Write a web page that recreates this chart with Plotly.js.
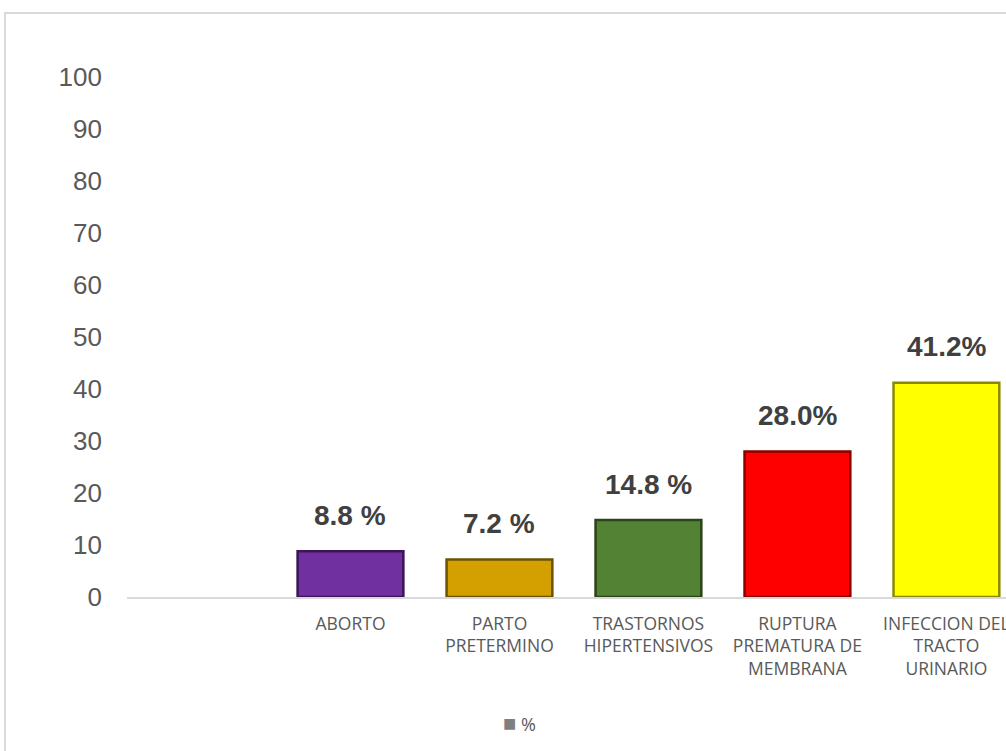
<!DOCTYPE html>
<html>
<head>
<meta charset="utf-8">
<script src="https://cdn.plot.ly/plotly-3.0.1.min.js"></script>
<style>
  html, body { margin: 0; padding: 0; background: #ffffff; overflow: hidden; width: 1006px; height: 751px; }
  #frame { position: absolute; left: 4px; top: 12px; width: 1100px; height: 900px; border: 2px solid #d9d9d9; box-sizing: border-box; }
  #chart { position: absolute; left: 0; top: 0; width: 1006px; height: 751px; }
</style>
</head>
<body>
<div id="frame"></div>
<div id="chart"></div>
<script>
// ---- data ----
const categories = [
  "ABORTO",
  "PARTO<br>PRETERMINO",
  "TRASTORNOS<br>HIPERTENSIVOS",
  "RUPTURA<br>PREMATURA DE<br>MEMBRANA",
  "INFECCION DEL<br>TRACTO<br>URINARIO"
];
const values = [8.8, 7.2, 14.8, 28.0, 41.2];
const valueLabels = ["8.8 %", "7.2 %", "14.8 %", "28.0%", "41.2%"];
const barColors = ["#7030a0", "#d4a000", "#548235", "#ff0000", "#ffff00"];
const barEdgeColors = ["#3c1458", "#6e5200", "#2b4418", "#8a0000", "#8a8a00"];
const seriesName = "%";
const yTicks = [0, 10, 20, 30, 40, 50, 60, 70, 80, 90, 100];

const trace = {
  type: "bar",
  x: categories,
  y: values,
  name: seriesName,
  width: 0.71,
  marker: { color: barColors, line: { color: barEdgeColors, width: 2.5 } },
  showlegend: false,
  hoverinfo: "none"
};

const annotations = categories.map((c, i) => ({
  x: c, y: values[i], xref: "x", yref: "y",
  text: valueLabels[i], showarrow: false,
  yanchor: "middle", yshift: 36,
  font: { family: "Liberation Sans, Arial, sans-serif", size: 28, color: "#404040", weight: "bold" }
}));
annotations.push({
  xref: "paper", yref: "paper", x: 0.447, y: -0.240, xanchor: "center", yanchor: "middle",
  showarrow: false,
  text: "<span style='color:#7f7f7f;font-size:22px'>■</span> " + seriesName,
  font: { family: "Open Sans, Noto Sans, sans-serif", size: 18, color: "#595959" }
});

const layout = {
  width: 1006, height: 751,
  margin: { l: 127, r: 0, t: 77, b: 154 },
  paper_bgcolor: "rgba(0,0,0,0)",
  plot_bgcolor: "rgba(0,0,0,0)",
  showlegend: false,
  xaxis: {
    type: "category",
    range: [-1.5, 4.4],
    showgrid: false, zeroline: false,
    showline: true, linecolor: "#d9d9d9", linewidth: 1.5,
    ticks: "", ticklabelstandoff: 10,
    tickfont: { family: "Open Sans, Noto Sans, sans-serif", size: 17.5, color: "#595959" },
    fixedrange: true
  },
  yaxis: {
    range: [0, 100],
    tickvals: yTicks,
    showgrid: false, zeroline: false, showline: false,
    ticks: "", ticklabelstandoff: 24,
    tickfont: { family: "Liberation Sans, Arial, sans-serif", size: 26, color: "#595959" },
    fixedrange: true
  },
  annotations: annotations
};

Plotly.newPlot("chart", [trace], layout, { displayModeBar: false, staticPlot: true });
</script>
</body>
</html>
